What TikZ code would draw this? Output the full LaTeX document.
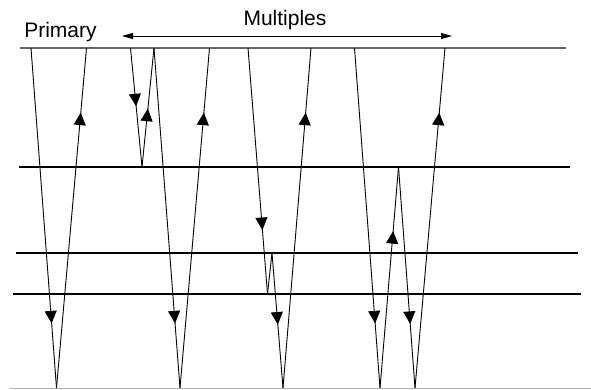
\documentclass[tikz,border=0pt]{standalone}
\usepackage{fontspec}
\setmainfont{Liberation Sans}
\usetikzlibrary{arrows.meta,decorations.markings}
\tikzset{
  ray/.style={line width=0.9pt, black},
  layer/.style={line width=1.2pt, black},
  surface/.style={line width=2pt, black!60},
  base/.style={line width=1.3pt, black!30},
  midarrow/.style={postaction={decorate},decoration={markings,
     mark=at position #1 with {\arrow{Triangle[width=12pt,length=12.5pt]}}}},
  lbl/.style={font=\fontsize{21}{23}\selectfont, inner sep=0pt, anchor=base}
}
\begin{document}
\begin{tikzpicture}[x=1pt,y=-1pt]
\useasboundingbox (0,0) rectangle (591,389);
% horizons
\coordinate (s1) at (20,48); \coordinate (s2) at (566,48);
\coordinate (a1) at (19,167); \coordinate (a2) at (570,167);
\coordinate (b1) at (16,253); \coordinate (b2) at (578,253);
\coordinate (c1) at (13,294); \coordinate (c2) at (581,294);
\coordinate (d1) at (10,388.3); \coordinate (d2) at (591,388.3);
\draw[surface] (s1) -- (s2);
\draw[layer] (a1) -- (a2);
\draw[layer] (b1) -- (b2);
\draw[layer] (c1) -- (c2);
\draw[base] (d1) -- (d2);
% labels
\node[lbl] (prim) at (60.5,37.5) {Primary};
\node[lbl] (mult) at (285,25.5) {Multiples};
\coordinate (mL) at (122,36); \coordinate (mR) at (452,36);
\draw[line width=0.9pt, {Triangle[width=6pt,length=11pt]}-{Triangle[width=6pt,length=11pt]}] (mL) -- (mR);
% ray 1: primary
\coordinate (p0) at (31,48); \coordinate (p1) at (56.5,388); \coordinate (p2) at (86.5,48);
\draw[ray, midarrow=0.81] (p0) -- (p1);
\draw[ray, midarrow=0.81] (p1) -- (p2);
% ray 2: short-path multiple at layer 2
\coordinate (q0) at (130.5,48); \coordinate (q1) at (142,167); \coordinate (q2) at (154,48);
\coordinate (q3) at (180,388); \coordinate (q4) at (209.5,48);
\draw[ray, midarrow=0.49] (q0) -- (q1);
\draw[ray, midarrow=0.49] (q1) -- (q2);
\draw[ray, midarrow=0.81] (q2) -- (q3);
\draw[ray, midarrow=0.81] (q3) -- (q4);
% ray 3: peg-leg between layers 3 and 4
\coordinate (r0) at (248,48); \coordinate (r1) at (267.5,294); \coordinate (r2) at (272,253);
\coordinate (r3) at (283,388); \coordinate (r4) at (311,48);
\draw[ray, midarrow=0.74] (r0) -- (r1);
\draw[ray] (r1) -- (r2);
\draw[ray, midarrow=0.53] (r2) -- (r3);
\draw[ray, midarrow=0.81] (r3) -- (r4);
% ray 4: long-path multiple between layer 2 and base
\coordinate (t0) at (354.5,48); \coordinate (t1) at (380,388); \coordinate (t2) at (398.5,167);
\coordinate (t3) at (415,388); \coordinate (t4) at (445,48);
\draw[ray, midarrow=0.81] (t0) -- (t1);
\draw[ray, midarrow=0.71] (t1) -- (t2);
\draw[ray, midarrow=0.71] (t2) -- (t3);
\draw[ray, midarrow=0.81] (t3) -- (t4);
\end{tikzpicture}
\end{document}
